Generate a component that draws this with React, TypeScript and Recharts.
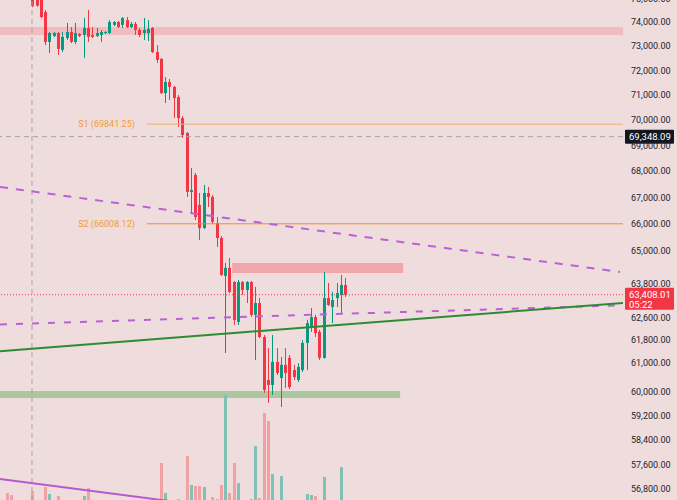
import React from "react";
import { ComposedChart, Bar, XAxis, YAxis, ReferenceLine, ReferenceArea } from "recharts";

// BTC 1h-style candles, first bar index is -7 (those sit above the visible price range)
const firstBar = -7;

const opens = [
  76350, 76200, 75900, 75600, 75700, 75450, 75300,
  75250, 75020, 74990, 74420, 73170, 73420, 73540, 72840, 73330, 73580,
  73170, 73500, 73460, 73750, 73460, 73420, 73460, 73540, 73540, 73880,
  74000, 73880, 74080, 73790, 73920, 73670, 73540, 73540, 73750, 72750,
  72470, 71080, 71530, 71330, 70920, 70080, 69490, 67210, 67860, 66720,
  65850, 67170, 67020, 66040, 65480, 64090, 64380, 63870, 62440, 63870,
  63580, 63870, 62690, 63110, 61910, 60420, 60250, 61040, 60490, 60940,
  61180, 60760, 60420, 60760, 61700, 62260, 62610, 62090, 61180, 63290,
  62970, 63290, 63400, 63760,
];
const highs = [
  76600, 76300, 76050, 75800, 75850, 75600, 75500,
  75380, 75180, 75100, 74500, 73580, 73580, 73580, 73580, 73960, 73790,
  73960, 73540, 74170, 74500, 73790, 73750, 73670, 73620, 74080, 74040,
  74040, 74210, 74210, 74000, 74000, 73750, 74170, 74080, 73790, 73040,
  72510, 71730, 71650, 71370, 71000, 70160, 69530, 68130, 67940, 67170,
  67480, 67400, 67090, 66260, 65550, 64560, 64740, 63900, 63940, 63900,
  63900, 63900, 63690, 63290, 61980, 61520, 61980, 61520, 61210, 61520,
  61280, 60940, 61000, 61800, 62510, 62930, 62690, 62160, 64230, 63830,
  63510, 63830, 64120, 64010,
];
const lows = [
  76100, 75800, 75500, 75400, 75350, 75150, 75100,
  74620, 74640, 74160, 73040, 72710, 73370, 72630, 72750, 73250, 73120,
  73080, 73370, 72510, 73170, 73330, 73370, 73170, 73500, 73500, 73830,
  73750, 73750, 73750, 73750, 73460, 73370, 73250, 73210, 72710, 72300,
  71040, 70680, 70800, 70080, 69730, 69300, 67020, 66410, 66150, 65400,
  65810, 66640, 66000, 65150, 64090, 61350, 63470, 62330, 62330, 63400,
  63110, 62610, 61110, 61870, 59980, 59640, 59910, 60590, 59500, 60150,
  60110, 60420, 60350, 60690, 60760, 62090, 61910, 61110, 61150, 63010,
  62400, 62970, 62760, 63330,
];
const closes = [
  76200, 75900, 75600, 75700, 75450, 75300, 75250,
  74670, 74690, 74210, 73170, 73540, 73540, 72880, 73380, 73580, 73170,
  73540, 73420, 73750, 73380, 73380, 73540, 73580, 73580, 74000, 74000,
  73790, 74170, 73790, 73920, 73670, 73460, 73670, 73710, 72750, 72430,
  71080, 71530, 71330, 70880, 70080, 69410, 67210, 67280, 66260, 65850,
  67170, 67020, 66080, 65480, 64120, 64380, 63510, 62510, 63870, 63580,
  63870, 62690, 63110, 61910, 60080, 60250, 61040, 60660, 60940, 60660,
  60180, 60520, 60870, 61700, 62400, 62610, 62050, 61180, 63290, 63040,
  63220, 63470, 63760, 63408.01,
];
const volumes = [
  80, 170, 150, 60, 90, 70, 85,
  190, 75, 95, 230, 160, 60, 140, 80, 70, 55,
  90, 40, 140, 220, 50, 45, 60, 35, 85, 40,
  55, 75, 65, 40, 60, 50, 80, 70, 110, 95,
  470, 170, 90, 95, 110, 98, 540, 250, 240, 240,
  230, 90, 130, 110, 250, 1150, 170, 470, 270, 95,
  85, 110, 640, 120, 970, 890, 360, 95, 340, 90,
  98, 70, 85, 95, 160, 150, 140, 96, 330, 92,
  80, 90, 430, 60,
];

const priceTicks = [
  75000, 74000, 73000, 72000, 71000, 70000, 69000, 68000, 67000, 66000,
  65000, 63800, 62600, 61800, 61000, 60000, 59200, 58400, 57600, 56800,
];

const priceDomain = [56130, 75354];
const barDomain = [-7.466, 137.9];

const s1 = 69841.25;
const s2 = 66008.12;
const crossPrice = 69348.09;
const lastPrice = 63408.01;
const timeLeft = "05:22";

const BG = "#efdddd";
const UP = "#089981";
const DOWN = "#f23645";
const FONT = "Roboto, 'Liberation Sans', sans-serif";

const rows = opens.map((open, k) => ({
  i: firstBar + k,
  open,
  high: highs[k],
  low: lows[k],
  close: closes[k],
  range: [lows[k], highs[k]],
  volume: volumes[k],
}));
const barTicks = rows.map((r) => r.i);

const fmt = (v: number) =>
  v.toLocaleString("en-US", { minimumFractionDigits: 2, maximumFractionDigits: 2 });

const Candle = (props: any) => {
  const { x, y, width, height, payload } = props;
  if (x == null || y == null) return null;
  const { open, close, high, low } = payload;
  const color = close >= open ? UP : DOWN;
  const top = Math.min(y, y + height);
  const h = Math.abs(height);
  const span = Math.log(high) - Math.log(low) || 1;
  const toY = (p: number) => top + (h * (Math.log(high) - Math.log(p))) / span;
  const b1 = toY(Math.max(open, close));
  const b2 = toY(Math.min(open, close));
  const cx = Math.round(x + width / 2) + 0.5;
  return (
    <g>
      <line x1={cx} x2={cx} y1={top} y2={top + h} stroke={color} strokeWidth={1} />
      <rect x={cx - 1.5} y={b1} width={3} height={Math.max(1, b2 - b1)} fill={color} />
    </g>
  );
};

const VolumeBar = (props: any) => {
  const { x, y, width, height, payload } = props;
  if (x == null) return null;
  const color = payload.close >= payload.open ? "#80c1b5" : "#f2a0a3";
  const cx = Math.round(x + width / 2) + 0.5;
  return <rect x={cx - 1.5} y={y} width={3} height={height} fill={color} />;
};

const AxisTag = ({ viewBox, text, sub, fill }: any) => {
  if (!viewBox) return null;
  const x = viewBox.x + viewBox.width + 2;
  const y = viewBox.y;
  const h = sub ? 22 : 14;
  return (
    <g>
      <rect x={x} y={y - 7} width={49} height={h} fill={fill} rx={1} />
      <text x={x + 4} y={y} dy="0.35em" fill="#fff" fontSize={9.5} fontFamily={FONT}>
        {text}
      </text>
      {sub ? (
        <text x={x + 4} y={y + 10} dy="0.35em" fill="#fff" fontSize={9.5} fontFamily={FONT}>
          {sub}
        </text>
      ) : null}
    </g>
  );
};

const PivotLabel = ({ viewBox, text }: any) => {
  if (!viewBox) return null;
  return (
    <text
      x={viewBox.x - 12}
      y={viewBox.y}
      dy="0.35em"
      textAnchor="end"
      fill="#f29b33"
      fontSize={9}
      fontFamily={FONT}
    >
      {text}
    </text>
  );
};

export default function App() {
  return (
    <div
      style={{
        position: "absolute",
        left: 0,
        top: 0,
        width: 677,
        height: 500,
        overflow: "hidden",
        background: BG,
      }}
    >
      <div style={{ position: "absolute", left: 0, top: -10 }}>
        <ComposedChart width={677} height={520} data={rows} margin={{ top: 0, right: 0, bottom: 0, left: 0 }}>
          <XAxis xAxisId="x" dataKey="i" type="number" domain={barDomain} ticks={barTicks} allowDataOverflow hide />
          <XAxis xAxisId="xv" dataKey="i" type="number" domain={barDomain} ticks={barTicks} allowDataOverflow hide />
          <YAxis
            yAxisId="p"
            orientation="right"
            width={54}
            scale="log"
            domain={priceDomain}
            allowDataOverflow
            ticks={priceTicks}
            interval={0}
            tickFormatter={fmt}
            axisLine={false}
            tickLine={false}
            tick={{ fontSize: 9, fill: "#1e222d", fontFamily: FONT }}
          />
          <YAxis yAxisId="v" domain={[0, 5200]} allowDataOverflow hide />

          <ReferenceArea xAxisId="x" yAxisId="p" y1={73460} y2={73790} fill="#f1bcc0" fillOpacity={1} stroke="none" ifOverflow="hidden" />
          <ReferenceArea xAxisId="x" yAxisId="p" x1={46.7} x2={86.6} y1={64194} y2={64559} fill="#f1a6ab" fillOpacity={1} stroke="none" ifOverflow="hidden" />
          <ReferenceArea xAxisId="x" yAxisId="p" x2={85.9} y1={59807} y2={60044} fill="#a9c8a0" fillOpacity={1} stroke="none" ifOverflow="hidden" />

          <Bar xAxisId="xv" yAxisId="v" dataKey="volume" barSize={3} shape={<VolumeBar />} isAnimationActive={false} />

          <ReferenceLine xAxisId="x" yAxisId="p" x={0} stroke="#aaa1a2" strokeDasharray="5 4" ifOverflow="hidden" />
          <ReferenceLine
            xAxisId="x"
            yAxisId="p"
            y={crossPrice}
            stroke="#aaa1a2"
            strokeDasharray="5 4"
            label={(p: any) => <AxisTag {...p} text={fmt(crossPrice)} fill="#131722" />}
          />
          <ReferenceLine
            xAxisId="x"
            yAxisId="p"
            segment={[{ x: 26.8, y: s1 }, { x: 137.9, y: s1 }]}
            stroke="#f2b06c"
            strokeWidth={1}
            label={(p: any) => <PivotLabel {...p} text={`S1 (${s1})`} />}
          />
          <ReferenceLine
            xAxisId="x"
            yAxisId="p"
            segment={[{ x: 26.8, y: s2 }, { x: 137.9, y: s2 }]}
            stroke="#ee8c2c"
            strokeWidth={1}
            label={(p: any) => <PivotLabel {...p} text={`S2 (${s2})`} />}
          />
          <ReferenceLine
            xAxisId="x"
            yAxisId="p"
            segment={[{ x: -7.466, y: 67398 }, { x: 137.2, y: 64230 }]}
            stroke="#b962d6"
            strokeWidth={2}
            strokeDasharray="8 8"
            ifOverflow="hidden"
          />
          <ReferenceLine
            xAxisId="x"
            yAxisId="p"
            segment={[{ x: -7.466, y: 62352 }, { x: 136.0, y: 63023 }]}
            stroke="#b962d6"
            strokeWidth={2}
            strokeDasharray="7 9"
            ifOverflow="hidden"
          />
          <ReferenceLine
            xAxisId="x"
            yAxisId="p"
            segment={[{ x: -7.466, y: 61413 }, { x: 137.9, y: 63116 }]}
            stroke="#2e8b35"
            strokeWidth={2}
            ifOverflow="hidden"
          />
          <ReferenceLine
            xAxisId="x"
            yAxisId="p"
            segment={[{ x: -7.466, y: 57123 }, { x: 39.2, y: 56289 }]}
            stroke="#b65ad0"
            strokeWidth={2}
            ifOverflow="hidden"
          />

          <Bar xAxisId="x" yAxisId="p" dataKey="range" barSize={3} shape={<Candle />} isAnimationActive={false} />

          <ReferenceLine
            xAxisId="x"
            yAxisId="p"
            y={lastPrice}
            stroke={DOWN}
            strokeDasharray="1 2"
            label={(p: any) => <AxisTag {...p} text={fmt(lastPrice)} sub={timeLeft} fill={DOWN} />}
          />
        </ComposedChart>
      </div>
    </div>
  );
}
